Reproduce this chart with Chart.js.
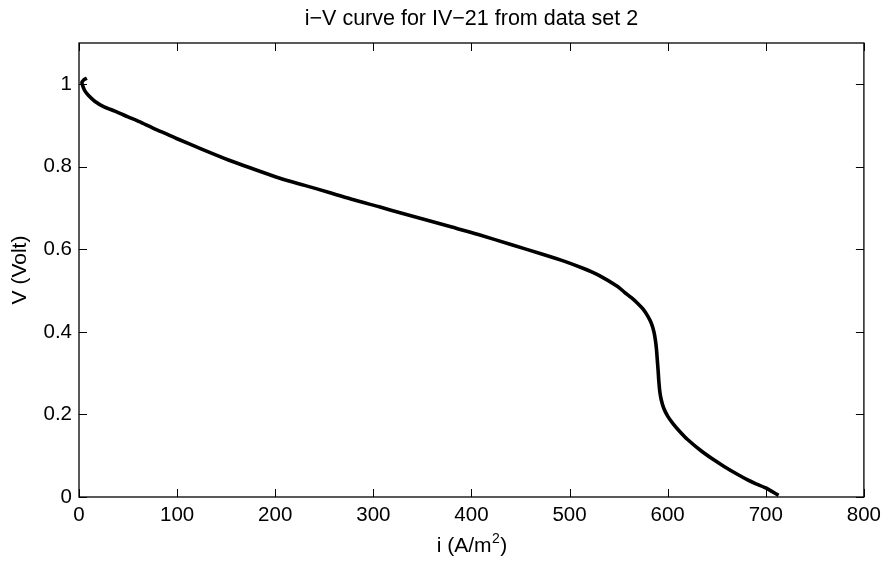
<!DOCTYPE html>
<html>
<head>
<meta charset="utf-8">
<script src="https://cdn.jsdelivr.net/npm/chart.js@4.4.1/dist/chart.umd.min.js"></script>
<style>
  html, body { margin: 0; padding: 0; background: #fff; }
  #wrap { width: 887px; height: 563px; }
</style>
</head>
<body>
<div id="wrap"><canvas id="c" width="887" height="563"></canvas></div>
<script>
// Data
const currentDensity = [8, 5, 3, 4, 6, 10, 16, 25, 36.5, 50, 63.6, 77, 90.7, 100, 125, 153, 175, 204, 230, 255, 280, 306, 330, 356, 380, 407, 441, 470, 495, 515, 529, 549, 556, 563, 569.5, 575, 580, 583.5, 586, 587.5, 588.5, 589.5, 590.3, 591, 592, 593.5, 596, 600, 606, 613, 620, 634, 647, 657.5, 671, 681, 690, 700, 713];
const voltage = [1.015, 1.011, 1.004, 0.995, 0.984, 0.972, 0.959, 0.946, 0.935, 0.921, 0.907, 0.892, 0.878, 0.868, 0.843, 0.816, 0.797, 0.773, 0.755, 0.738, 0.720, 0.703, 0.687, 0.670, 0.654, 0.636, 0.611, 0.590, 0.571, 0.553, 0.538, 0.510, 0.496, 0.483, 0.469, 0.455, 0.437, 0.420, 0.400, 0.380, 0.360, 0.330, 0.305, 0.280, 0.255, 0.235, 0.215, 0.196, 0.176, 0.157, 0.140, 0.112, 0.090, 0.074, 0.055, 0.042, 0.032, 0.022, 0.004];
const xTickValues = [0, 100, 200, 300, 400, 500, 600, 700, 800];
const yTickValues = [0, 0.2, 0.4, 0.6, 0.8, 1];
const chartTitle = 'i\u2212V curve for IV\u221221 from data set 2';
const xLabelMain = 'i (A/m';
const xLabelSup = '2';
const xLabelEnd = ')';
const yLabel = 'V (Volt)';

const points = currentDensity.map((x, i) => ({ x: x, y: voltage[i] }));
const FONT = "'Liberation Sans', Arial, Helvetica, sans-serif";

const frameTicks = {
  id: 'frameTicks',
  afterDatasetsDraw(chart) {
    const { ctx, chartArea: a, scales } = chart;
    const L = 8;
    ctx.save();
    ctx.strokeStyle = '#000';
    ctx.lineWidth = 1.3;
    ctx.strokeRect(a.left, a.top, a.right - a.left, a.bottom - a.top);
    ctx.beginPath();
    xTickValues.forEach(v => {
      const px = Math.round(scales.x.getPixelForValue(v)) + 0.5;
      ctx.moveTo(px, a.bottom); ctx.lineTo(px, a.bottom - L);
      ctx.moveTo(px, a.top); ctx.lineTo(px, a.top + L);
    });
    yTickValues.forEach(v => {
      const py = Math.round(scales.y.getPixelForValue(v)) + 0.5;
      ctx.moveTo(a.left, py); ctx.lineTo(a.left + L, py);
      ctx.moveTo(a.right, py); ctx.lineTo(a.right - L, py);
    });
    ctx.lineWidth = 1;
    ctx.stroke();

    const cx = (a.left + a.right) / 2;
    ctx.fillStyle = '#000';
    ctx.textBaseline = 'alphabetic';

    // title centred over the plot area
    ctx.font = '21.5px ' + FONT;
    ctx.textAlign = 'center';
    ctx.fillText(chartTitle, cx, 25);

    // x-axis label with superscript
    const big = '21px ' + FONT, small = '14px ' + FONT;
    ctx.font = big;
    const w1 = ctx.measureText(xLabelMain).width;
    const w3 = ctx.measureText(xLabelEnd).width;
    ctx.font = small;
    const w2 = ctx.measureText(xLabelSup).width;
    let x0 = cx - (w1 + w2 + w3) / 2;
    const base = 552;
    ctx.textAlign = 'left';
    ctx.font = big;
    ctx.fillText(xLabelMain, x0, base);
    ctx.font = small;
    ctx.fillText(xLabelSup, x0 + w1 + 0.5, base - 9);
    ctx.font = big;
    ctx.fillText(xLabelEnd, x0 + w1 + w2 + 1, base);
    ctx.restore();
  }
};

new Chart(document.getElementById('c'), {
  type: 'line',
  data: {
    datasets: [{
      data: points,
      borderColor: '#000',
      borderWidth: 3.6,
      pointRadius: 0,
      tension: 0.25,
      fill: false
    }]
  },
  options: {
    responsive: false,
    animation: false,
    layout: { padding: { left: 0, right: 20, top: 43, bottom: 0 } },
    plugins: {
      legend: { display: false },
      tooltip: { enabled: false },
      title: { display: false }
    },
    scales: {
      x: {
        type: 'linear',
        min: 0, max: 800,
        afterBuildTicks(s) { s.ticks = xTickValues.map(v => ({ value: v })); },
        afterFit(s) { s.height = 66; },
        grid: { display: false, drawTicks: false },
        border: { display: false },
        ticks: { color: '#000', padding: 6, font: { family: FONT, size: 20.5 }, maxRotation: 0 },
        title: { display: false }
      },
      y: {
        type: 'linear',
        min: 0, max: 1.1,
        afterBuildTicks(s) { s.ticks = yTickValues.map(v => ({ value: v })); },
        afterFit(s) { s.width = 79; },
        grid: { display: false, drawTicks: false },
        border: { display: false },
        ticks: { color: '#000', padding: 7, font: { family: FONT, size: 20.5 }, callback: v => String(Math.round(v * 10) / 10) },
        title: { display: true, text: yLabel, color: '#000', font: { family: FONT, size: 21 }, padding: { top: 8, bottom: 0 } }
      }
    }
  },
  plugins: [frameTicks]
});
</script>
</body>
</html>
